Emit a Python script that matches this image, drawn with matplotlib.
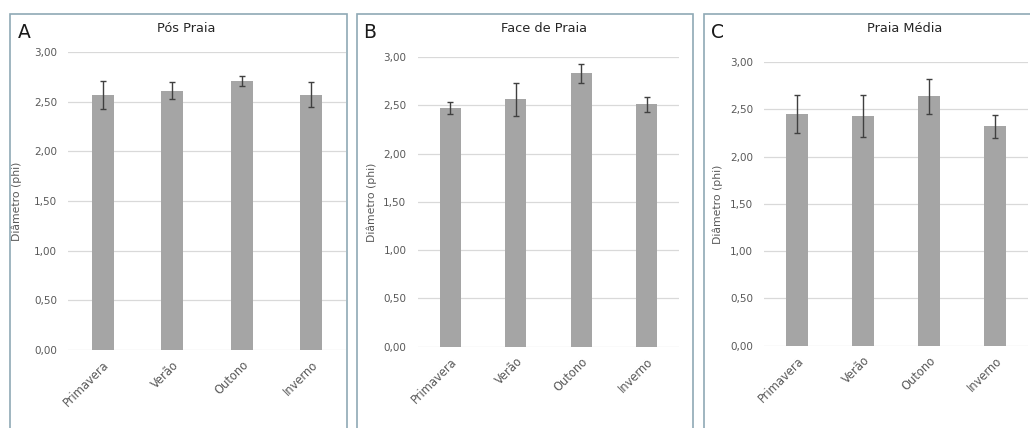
"""Diâmetro médio (phi) por estação nos três setores da praia, com barras de erro."""
import matplotlib
matplotlib.use("Agg")
import matplotlib.pyplot as plt
from matplotlib.patches import Rectangle
from matplotlib.ticker import FuncFormatter, MultipleLocator

W, H = 1030, 428

ESTACOES = ["Primavera", "Verão", "Outono", "Inverno"]

POS_PRAIA = [2.57, 2.61, 2.71, 2.57]
POS_PRAIA_ERR = [0.14, 0.085, 0.05, 0.125]

FACE_PRAIA = [2.47, 2.56, 2.83, 2.51]
FACE_PRAIA_ERR = [0.065, 0.175, 0.10, 0.08]

PRAIA_MEDIA = [2.45, 2.43, 2.64, 2.32]
PRAIA_MEDIA_ERR = [0.20, 0.22, 0.185, 0.12]

BAR = "#a5a5a5"
GRID = "#d9d9d9"
TXT = "#595959"
BORDA = "#8fa9b5"

# caixa (x0, x1), área do gráfico (esq, dir, topo, base), título x, letra x, rótulo y x
PAINEIS = [
    ("A", "Pós Praia", POS_PRAIA, POS_PRAIA_ERR,
     (10, 346.5), (68, 346, 52, 350), 186, 18, 17),
    ("B", "Face de Praia", FACE_PRAIA, FACE_PRAIA_ERR,
     (356.5, 693), (417.5, 679.5, 57, 346.7), 544, 363, 372),
    ("C", "Praia Média", PRAIA_MEDIA, PRAIA_MEDIA_ERR,
     (704, 1031), (764, 1028, 62, 345.7), 905, 711, 718),
]


def virgula(v, _pos):
    return f"{v:.2f}".replace(".", ",")


def px(x, y):
    return x / W, 1 - y / H


fig = plt.figure(figsize=(W / 100, H / 100), dpi=100)
fig.patch.set_facecolor("white")

for letra, titulo, vals, errs, caixa, area, tx, lx, yx in PAINEIS:
    x0, x1 = caixa
    fig.add_artist(Rectangle((x0 / W, 0 - 0.01), (x1 - x0) / W, 1 - 14 / H + 0.01,
                             transform=fig.transFigure, fill=False,
                             edgecolor=BORDA, linewidth=1.2))

    esq, dir_, topo, base = area
    ax = fig.add_axes([esq / W, 1 - base / H, (dir_ - esq) / W, (base - topo) / H])
    pos = range(len(ESTACOES))
    ax.bar(pos, vals, width=0.32, color=BAR, zorder=2)
    ax.errorbar(pos, vals, yerr=errs, fmt="none", ecolor="#404040",
                elinewidth=1.0, capsize=2.5, capthick=1.0, zorder=3)

    ax.set_xlim(-0.5, len(ESTACOES) - 0.5)
    ax.set_ylim(0, 3)
    ax.yaxis.set_major_locator(MultipleLocator(0.5))
    ax.yaxis.set_major_formatter(FuncFormatter(virgula))
    ax.grid(axis="y", color=GRID, linewidth=0.9, zorder=0)
    ax.set_axisbelow(True)
    for s in ax.spines.values():
        s.set_visible(False)
    ax.tick_params(axis="both", length=0, labelsize=7.5, labelcolor=TXT)
    ax.tick_params(axis="y", pad=8)
    ax.set_xticks(list(pos))
    ax.set_xticklabels(ESTACOES, rotation=45, ha="right", rotation_mode="anchor",
                       fontsize=8.3, color=TXT)
    ax.tick_params(axis="x", pad=6)

    fig.text(*px(tx, 28), titulo, ha="center", va="center", fontsize=9.3, color="#262626")
    fig.text(*px(lx, 33), letra, ha="left", va="center", fontsize=13.5, color="#1a1a1a")
    fig.text(*px(yx, (topo + base) / 2), "Diâmetro (phi)", ha="center", va="center",
             rotation=90, fontsize=7.8, color=TXT)

fig.savefig("out.png", dpi=100)
